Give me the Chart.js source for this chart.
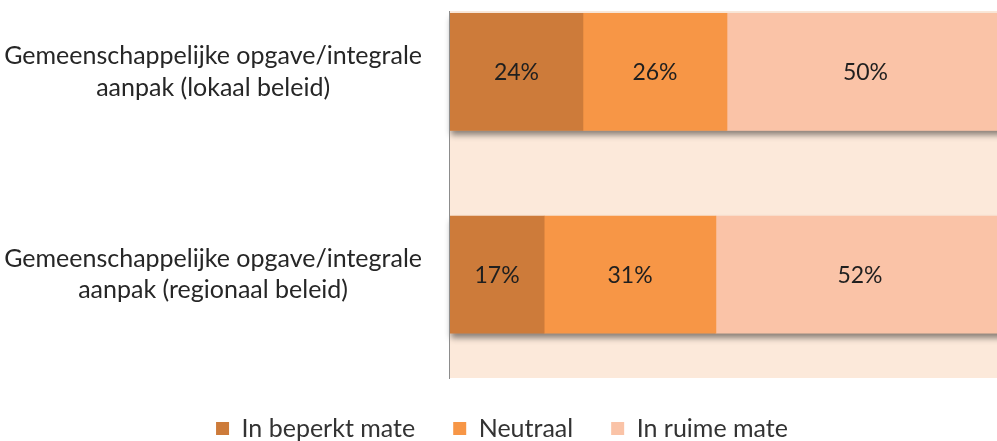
<!DOCTYPE html>
<html>
<head>
<meta charset="utf-8">
<script src="https://cdn.jsdelivr.net/npm/chart.js@4.4.0/dist/chart.umd.min.js"></script>
<style>
    html, body { margin: 0; padding: 0; background: #fff; overflow: hidden; }
    #wrap { width: 1026px; height: 451px; }
</style>
</head>
<body>
<div id="wrap"><canvas id="barChart" width="1026" height="451"></canvas></div>
<script>
const categories = [
    ['Gemeenschappelijke opgave/integrale', 'aanpak (lokaal beleid)'],
    ['Gemeenschappelijke opgave/integrale', 'aanpak (regionaal beleid)']
];
const seriesNames = ['In beperkt mate', 'Neutraal', 'In ruime mate'];
const beperkt = [24, 17];
const neutraal = [26, 31];
const ruim = [50, 52];
const seriesColors = ['#CD7B3A', '#F79646', '#FAC3A7'];

const FONT = 'Lato, "Open Sans", sans-serif';

function toPoints(values) {
    return values.map((v, i) => ({ x: v, y: i }));
}

const plotBackground = {
    id: 'plotBackground',
    beforeDatasetsDraw(chart) {
        const a = chart.chartArea;
        const ctx = chart.ctx;
        ctx.save();
        ctx.fillStyle = '#FCE9DA';
        ctx.fillRect(a.left, a.top, a.right - a.left, a.bottom - a.top);
        ctx.restore();
    }
};

// one shadow per stacked bar, drawn under the segments
const barShadow = {
    id: 'barShadow',
    beforeDatasetsDraw(chart) {
        const ctx = chart.ctx;
        const metas = chart.data.datasets.map((ds, di) => chart.getDatasetMeta(di));
        ctx.save();
        ctx.shadowColor = 'rgba(0, 0, 0, 0.45)';
        ctx.shadowBlur = 6;
        ctx.shadowOffsetX = 1;
        ctx.shadowOffsetY = 5;
        ctx.fillStyle = '#FAC3A7';
        metas[0].data.forEach((first, i) => {
            let left = Infinity, right = -Infinity;
            metas.forEach(m => {
                const b = m.data[i];
                left = Math.min(left, b.base, b.x);
                right = Math.max(right, b.base, b.x);
            });
            const h = first.height;
            ctx.fillRect(left, first.y - h / 2, right - left, h);
        });
        ctx.restore();
    }
};

const valueLabels = {
    id: 'valueLabels',
    afterDatasetsDraw(chart) {
        const ctx = chart.ctx;
        const a = chart.chartArea;
        ctx.save();
        // vertical axis line, kept visible left of the bars
        ctx.strokeStyle = '#8c8c8c';
        ctx.lineWidth = 1;
        ctx.beginPath();
        ctx.moveTo(a.left - 0.5, a.top);
        ctx.lineTo(a.left - 0.5, a.bottom + 1);
        ctx.stroke();

        ctx.font = '23px ' + FONT;
        ctx.fillStyle = '#1f1f1f';
        ctx.textAlign = 'center';
        ctx.textBaseline = 'middle';
        chart.data.datasets.forEach((ds, di) => {
            const meta = chart.getDatasetMeta(di);
            meta.data.forEach((bar, i) => {
                const p = bar.getCenterPoint();
                ctx.fillText(ds.data[i].x + '%', p.x, p.y + 1);
            });
        });
        ctx.restore();
    }
};

new Chart(document.getElementById('barChart'), {
    type: 'bar',
    data: {
        datasets: [
            { label: seriesNames[0], data: toPoints(beperkt), backgroundColor: seriesColors[0] },
            { label: seriesNames[1], data: toPoints(neutraal), backgroundColor: seriesColors[1] },
            { label: seriesNames[2], data: toPoints(ruim), backgroundColor: seriesColors[2] }
        ]
    },
    options: {
        indexAxis: 'y',
        responsive: false,
        animation: false,
        barThickness: 117,
        layout: { padding: { top: 11, right: 22, left: 0, bottom: 0 } },
        scales: {
            x: {
                stacked: true,
                min: 0,
                max: 100,
                display: false
            },
            y: {
                type: 'linear',
                stacked: true,
                reverse: true,
                offset: false,
                min: -0.3,
                max: 1.51,
                afterBuildTicks: axis => {
                    axis.ticks = categories.map((c, i) => ({ value: i }));
                },
                afterFit: axis => {
                    axis.width = 450;
                    axis.paddingTop = 0;
                    axis.paddingBottom = 0;
                },
                grid: { display: false, drawTicks: false, offset: false },
                border: { display: false },
                ticks: {
                    crossAlign: 'center',
                    padding: 28,
                    color: '#262626',
                    font: { family: FONT, size: 25, lineHeight: 1.25 },
                    callback: value => categories[value]
                }
            }
        },
        plugins: {
            legend: {
                position: 'bottom',
                labels: {
                    boxWidth: 13,
                    boxHeight: 13,
                    padding: 38,
                    color: '#333333',
                    font: { family: FONT, size: 25 }
                }
            },
            tooltip: { enabled: false }
        }
    },
    plugins: [plotBackground, barShadow, valueLabels]
});
</script>
</body>
</html>
